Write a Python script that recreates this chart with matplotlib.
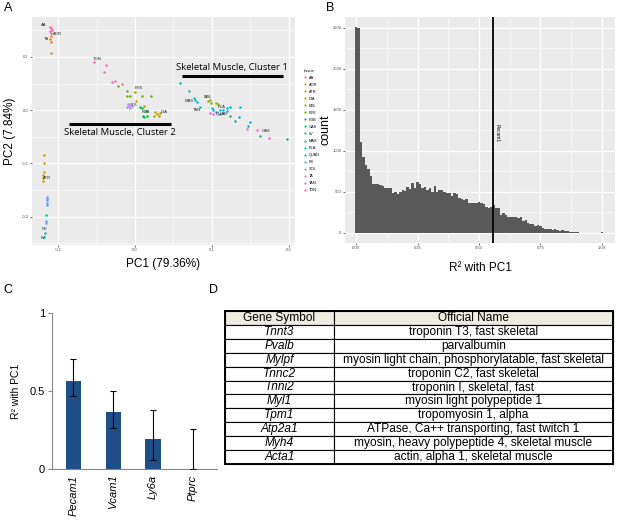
import matplotlib.pyplot as plt
import numpy as np
from matplotlib.lines import Line2D

plt.rcParams['font.family'] = ['Liberation Sans', 'DejaVu Sans']

# ---------------- A: PCA of tissues ----------------
tissues = ['AA', 'AOR', 'ATR', 'DIA', 'EDL', 'EYE', 'FDB', 'GAS', 'LV', 'MAS',
           'PLA', 'QUAD', 'RV', 'SOL', 'TA', 'TAN', 'TON']
tissue_colors = ['#F8766D', '#E88526', '#D39200', '#B79F00', '#93AA00', '#5EB300',
                 '#00BA38', '#00BF74', '#00C19F', '#00BFC4', '#00B9E3', '#00ADFA',
                 '#619CFF', '#AE87FF', '#DB72FB', '#F564E3', '#FF61C3']

pt_tissue = (['AA'] * 3 + ['TA'] * 2 + ['AOR'] * 5 + ['ATR'] * 6 + ['RV'] * 7 + ['LV'] * 3
             + ['TON'] * 6 + ['EYE'] * 6 + ['DIA'] * 8 + ['SOL'] * 5 + ['FDB'] * 6
             + ['MAS'] * 6 + ['EDL'] * 6 + ['PLA'] * 5 + ['QUAD'] * 9 + ['GAS'] * 4 + ['TAN'] * 5)
pc1 = [-0.111, -0.1095, -0.108,
       -0.110, -0.1085,
       -0.1095, -0.109, -0.110, -0.1095, -0.109,
       -0.118, -0.119, -0.119, -0.120, -0.120, -0.120,
       -0.1147, -0.1147, -0.1147, -0.1147, -0.1147, -0.116, -0.116,
       -0.116, -0.117, -0.118,
       -0.054, -0.038, -0.040, -0.030, -0.026, -0.017,
       -0.022, -0.011, -0.010, -0.006, 0.009, 0.021,
       0.000, 0.001, 0.0117, 0.025, 0.028, 0.0316, 0.0325, 0.026,
       -0.0087, -0.010, -0.0043, -0.0065, -0.0074,
       0.0065, 0.0087, 0.0139, 0.0152, 0.0108, 0.0117,
       0.058, 0.070, 0.077, 0.0775, 0.081, 0.084,
       0.092, 0.095, 0.097, 0.099, 0.105, 0.108,
       0.119, 0.123, 0.115, 0.110, 0.137,
       0.100, 0.102, 0.105, 0.110, 0.115, 0.119, 0.135, 0.147, 0.149,
       0.163, 0.198, 0.130, 0.124,
       0.097, 0.102, 0.145, 0.158, 0.174]
pc2 = [0.156, 0.154, 0.151,
       0.148, 0.150,
       0.145, 0.139, 0.134, 0.129, 0.1075,
       -0.084, -0.100, -0.116, -0.122, -0.128, -0.133,
       -0.1625, -0.166, -0.169, -0.174, -0.178, -0.208, -0.2125,
       -0.196, -0.230, -0.2375,
       0.090, 0.084, 0.071, 0.0525, 0.054, 0.050,
       0.046, 0.036, 0.026, 0.026, 0.026, 0.026,
       0.034, 0.018, 0.0088, -0.011, -0.008, -0.010, -0.005, -0.003,
       0.012, 0.006, 0.0075, 0.0044, 0.0088,
       0.006, 0.0044, -0.002, -0.011, -0.011, -0.0125,
       0.051, 0.037, 0.023, 0.020, 0.015, 0.006,
       0.026, 0.017, 0.020, 0.014, 0.014, 0.0125,
       0.0044, 0.006, 0.001, 0.000, 0.006,
       0.004, 0.000, -0.004, -0.008, -0.005, -0.002, -0.0125, -0.029, -0.0225,
       -0.0475, -0.054, -0.020, -0.011,
       -0.005, -0.007, -0.036, -0.0375, -0.053]

lab_tissue = ['AA', 'AOR', 'TA', 'TON', 'EYE', 'SOL', 'FDB', 'DIA', 'MAS', 'EDL',
              'TAN', 'PLA', 'QUAD', 'GAS', 'ATR', 'RV', 'LV']
lab_x = [-0.119, -0.101, -0.115, -0.049, 0.005, -0.002, 0.014, 0.038, 0.0705, 0.095,
         0.080, 0.112, 0.113, 0.170, -0.115, -0.118, -0.119]
lab_y = [0.160, 0.144, 0.134, 0.097, 0.041, 0.009, -0.004, -0.004, 0.018, 0.025,
         0.000, 0.006, -0.008, -0.039, -0.127, -0.2235, -0.239]

# ---------------- B: histogram of R2 with PC1 ----------------
hist_counts = [2510, 2505, 1114, 931, 829, 776, 695, 598, 598, 598,
               585, 577, 553, 545, 553, 492, 504, 476, 496, 524,
               512, 565, 532, 606, 545, 618, 593, 553, 565, 524,
               553, 504, 577, 504, 524, 524, 496, 488, 484, 455,
               492, 470, 423, 415, 402, 410, 370, 362, 362, 362,
               382, 370, 350, 313, 309, 315, 340, 300, 300, 220,
               248, 220, 199, 191, 191, 199, 179, 199, 146, 159,
               118, 106, 106, 85, 98, 85, 65, 53, 53, 45,
               37, 45, 37, 28, 32, 20, 28, 16, 12, 12,
               8, 6, 5, 4, 3, 2, 2, 1, 1, 0, 16]
bin_width = 0.01
pecam1_r2 = 0.558

# ---------------- C: bars ----------------
genes_c = ['Pecam1', 'Vcam1', 'Ly6a', 'Ptprc']
r2_c = [0.565, 0.368, 0.19, 0.0]
err_lo = [0.096, 0.102, 0.132, 0.0]
err_hi = [0.139, 0.129, 0.189, 0.255]

# ---------------- D: table ----------------
genes_d = ['Tnnt3', 'Pvalb', 'Mylpf', 'Tnnc2', 'Tnni2', 'Myl1', 'Tpm1', 'Atp2a1', 'Myh4', 'Acta1']
names_d = ['troponin T3, fast skeletal', 'parvalbumin',
           'myosin light chain, phosphorylatable, fast skeletal',
           'troponin C2, fast skeletal', 'troponin I, skeletal, fast',
           'myosin light polypeptide 1', 'tropomyosin 1, alpha',
           'ATPase, Ca++ transporting, fast twitch 1',
           'myosin, heavy polypeptide 4, skeletal muscle',
           'actin, alpha 1, skeletal muscle']

W, H = 617, 528
fig = plt.figure(figsize=(W / 100, H / 100), dpi=100)


def box(l, t, r, b):
    return [l / W, 1 - b / H, (r - l) / W, (b - t) / H]


def gg_style(ax):
    ax.set_facecolor('#EBEBEB')
    for s in ax.spines.values():
        s.set_visible(False)
    ax.grid(True, which='major', color='white', lw=0.9)
    ax.grid(True, which='minor', color='white', lw=0.45)
    ax.set_axisbelow(True)
    ax.tick_params(which='major', length=1.5, width=0.5, color='#333333',
                   labelsize=3, labelcolor='#4D4D4D', pad=1)
    ax.tick_params(which='minor', length=0)


# panel A
axA = fig.add_axes(box(32, 17, 295, 245))
gg_style(axA)
pt_tissue = np.array(pt_tissue)
pc1 = np.array(pc1)
pc2 = np.array(pc2)
for t, c in zip(tissues, tissue_colors):
    m = pt_tissue == t
    axA.scatter(pc1[m], pc2[m], s=3.2, color=c, lw=0, zorder=3)
for t, x, y in zip(lab_tissue, lab_x, lab_y):
    axA.text(x, y, t, fontsize=3, ha='center', va='center', color='#222222', zorder=4)
axA.set_xlim(-0.134, 0.208)
axA.set_ylim(-0.253, 0.175)
axA.set_xticks([-0.1, 0.0, 0.1, 0.2])
axA.set_xticks([-0.05, 0.05, 0.15], minor=True)
axA.set_yticks([-0.2, -0.1, 0.0, 0.1])
axA.set_yticks([-0.25, -0.15, -0.05, 0.05, 0.15], minor=True)
axA.set_xticklabels(['-0.1', '0.0', '0.1', '0.2'])
axA.set_yticklabels(['-0.2', '-0.1', '0.0', '0.1'])
axA.set_xlabel('PC1 (79.36%)', fontsize=8.5, labelpad=4)
axA.set_ylabel('PC2 (7.84%)', fontsize=8.5, labelpad=4)

# cluster annotations
axA.plot([0.061, 0.193], [0.064, 0.064], color='black', lw=2.2, solid_capstyle='butt', zorder=5)
axA.text(0.053, 0.081, 'Skeletal Muscle, Cluster 1', family='Open Sans', fontsize=6.8,
         ha='left', va='center', zorder=5)
axA.plot([-0.086, 0.047], [-0.025, -0.025], color='black', lw=2.2, solid_capstyle='butt', zorder=5)
axA.text(-0.093, -0.0425, 'Skeletal Muscle, Cluster 2', family='Open Sans', fontsize=6.8,
         ha='left', va='center', zorder=5)

# legend
handles = [Line2D([], [], marker='o', ls='', color=c, markersize=1.6, markeredgewidth=0)
           for c in tissue_colors]
fig.legend(handles, tissues, title='tissue', loc='upper left',
           bbox_to_anchor=(302 / W, 1 - 67 / H), frameon=False, fontsize=2.8,
           title_fontsize=3, labelspacing=0.78, handlelength=0.8, handletextpad=0.5,
           borderaxespad=0, alignment='left')

# panel B
axB = fig.add_axes(box(345, 17, 615, 243))
gg_style(axB)
centers = np.arange(len(hist_counts)) * bin_width
axB.bar(centers, hist_counts, width=bin_width, color='#595959', lw=0, zorder=3)
axB.axvline(pecam1_r2, color='black', lw=1.3, zorder=4)
axB.text(pecam1_r2 + 0.006, 1215, 'Pecam1', rotation=-90, fontsize=3.5,
         ha='left', va='center', zorder=5)
axB.set_xlim(-0.045, 1.053)
axB.set_ylim(-122, 2634)
axB.set_xticks([0, 0.25, 0.5, 0.75, 1.0])
axB.set_xticks([0.125, 0.375, 0.625, 0.875], minor=True)
axB.set_xticklabels(['0.00', '0.25', '0.50', '0.75', '1.00'])
axB.set_yticks([0, 500, 1000, 1500, 2000, 2500])
axB.set_yticks([250, 750, 1250, 1750, 2250], minor=True)
axB.set_xlabel('R² with PC1', fontsize=8.5, labelpad=8)
axB.set_ylabel('count', fontsize=9)
axB.yaxis.set_label_coords(-0.05, 0.5)

# panel C
axC = fig.add_axes(box(52, 313, 217, 469))
xc = np.arange(len(genes_c))
axC.bar(xc, r2_c, width=0.38, color='#1F4E89', zorder=2)
axC.errorbar(xc, r2_c, yerr=[err_lo, err_hi], fmt='none', ecolor='black',
             elinewidth=0.8, capsize=2, capthick=0.8, zorder=3)
axC.set_xlim(-0.53, 3.6)
axC.set_ylim(0, 1)
axC.set_yticks([0, 0.5, 1])
axC.set_yticklabels(['0', '0.5', '1'])
axC.set_xticks(xc)
axC.set_xticklabels(genes_c, rotation=90, style='italic', fontsize=8)
for s in ['top', 'right']:
    axC.spines[s].set_visible(False)
for s in ['left', 'bottom']:
    axC.spines[s].set_color('#868686')
    axC.spines[s].set_linewidth(0.8)
axC.tick_params(axis='y', labelsize=8, length=3, width=0.8, color='#868686', pad=2)
axC.tick_params(axis='x', length=0, pad=4)
axC.set_ylabel('R² with PC1', fontsize=7.5, labelpad=6)

# panel D
axD = fig.add_axes(box(225, 311, 613, 464))
axD.axis('off')
tbl = axD.table(cellText=[[g, n] for g, n in zip(genes_d, names_d)],
                colLabels=['Gene Symbol', 'Official Name'], cellLoc='center',
                colWidths=[0.281, 0.719], bbox=[0, 0, 1, 1])
tbl.auto_set_font_size(False)
for (r, c), cell in tbl.get_celld().items():
    cell.set_linewidth(0.8)
    cell.get_text().set_fontsize(8.6)
    if r == 0:
        cell.set_facecolor('#EEECE1')
    elif c == 0:
        cell.get_text().set_fontstyle('italic')
axD.add_patch(plt.Rectangle((0, 0), 1, 1, fill=False, lw=1.4, color='black',
                            transform=axD.transAxes, clip_on=False, zorder=5))

# panel letters
for letter, x, y in [('A', 8, 8), ('B', 330, 8), ('C', 8, 290), ('D', 214, 290)]:
    fig.text(x / W, 1 - y / H, letter, fontsize=9, ha='center', va='center')

fig.savefig('out.png', dpi=100)
